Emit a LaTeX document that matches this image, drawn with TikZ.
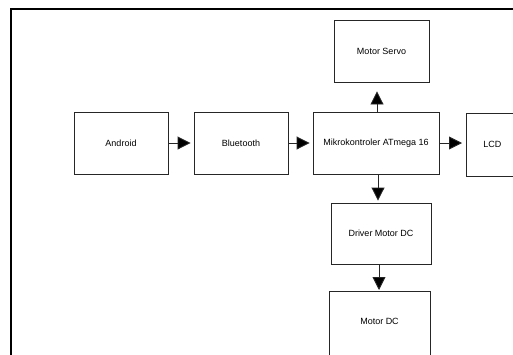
\documentclass[tikz,border=0pt]{standalone}
\usepackage{fontspec}
\setmainfont{Liberation Sans}
\usetikzlibrary{arrows.meta}
\tikzset{
  blk/.style={draw=black!85, line width=0.9pt, inner sep=0pt, font=\fontsize{9}{11}\selectfont},
  arr/.style={draw=black!85, line width=0.9pt, -{Triangle[length=13pt,width=13pt,fill=black]}},
  frame/.style={draw=black, line width=2pt}
}
\begin{document}
\begin{tikzpicture}[x=1pt,y=-1pt]
\useasboundingbox (0,0) rectangle (513,354);
\clip (0,0) rectangle (513,354);
\coordinate (fbl) at (11,370);
\coordinate (ftl) at (11,9);
\coordinate (ftr) at (530,9);
\draw[frame] (fbl) -- (ftl) -- (ftr);
\node[blk, minimum width=94pt, minimum height=62pt] (android) at (121,143) {Android};
\node[blk, minimum width=94pt, minimum height=62pt] (bt) at (241,143) {Bluetooth};
\node[blk, minimum width=126pt, minimum height=62pt] (mcu) at (376,143) {Mikrokontroler ATmega 16};
\node[blk, minimum width=90pt, minimum height=63pt, anchor=west] (lcd) at (466,144.5) {\hspace*{-38pt}LCD};
\node[blk, minimum width=95pt, minimum height=62pt] (servo) at (381.5,51) {Motor Servo};
\node[blk, minimum width=100pt, minimum height=61pt] (driver) at (381,233.5) {Driver Motor DC};
\node[blk, minimum width=101pt, minimum height=76pt, anchor=north] (motor) at (379.5,291) {};
\node[font=\fontsize{9}{11}\selectfont] (motorlbl) at (379.5,321) {Motor DC};
\draw[arr, shorten >=3pt] (android.east) -- (bt.west);
\draw[arr, shorten >=3pt] (bt.east) -- (mcu.west);
\draw[arr, shorten >=4pt] (mcu.east) -- (mcu.east -| lcd.west);
\draw[arr, shorten >=9pt] ([xshift=1pt]mcu.north) -- ([xshift=1pt]mcu.north |- servo.south);
\draw[arr, shorten >=2pt] ([xshift=2pt]mcu.south) -- ([xshift=2pt]mcu.south |- driver.north);
\draw[arr, shorten >=1pt] ([xshift=-2pt]driver.south) -- ([xshift=-2pt]driver.south |- motor.north);
\end{tikzpicture}
\end{document}
